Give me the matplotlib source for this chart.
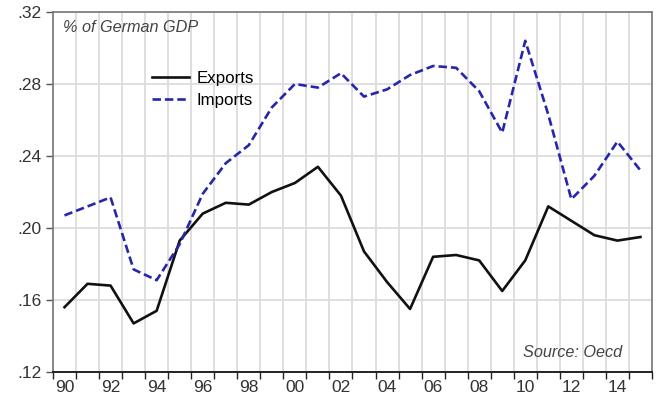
import matplotlib
matplotlib.use("Agg")
import matplotlib.pyplot as plt
import numpy as np

plt.rcParams['font.family'] = ['Liberation Sans', 'DejaVu Sans']

# data, share of German GDP
years = list(range(1990, 2016))
exports = [0.156, 0.169, 0.168, 0.147, 0.154, 0.193, 0.208, 0.214, 0.213, 0.220,
           0.225, 0.234, 0.218, 0.187, 0.170, 0.155, 0.184, 0.185, 0.182, 0.165,
           0.182, 0.212, 0.204, 0.196, 0.193, 0.195]
imports = [0.207, 0.212, 0.217, 0.177, 0.171, 0.191, 0.219, 0.236, 0.246, 0.267,
           0.280, 0.278, 0.286, 0.273, 0.277, 0.285, 0.290, 0.289, 0.276, 0.253,
           0.304, 0.263, 0.216, 0.229, 0.248, 0.232]
y_ticks = [0.12, 0.16, 0.20, 0.24, 0.28, 0.32]
y_labels = ['.12', '.16', '.20', '.24', '.28', '.32']
x_label_years = list(range(1990, 2016, 2))

fig = plt.figure(figsize=(6.68, 4.04), dpi=100)
ax = fig.add_axes([0.0793, 0.0792, 0.8967, 0.8911])

x = np.array(years) + 0.5
ax.plot(x, exports, color='#111111', lw=1.9, label='Exports', zorder=3)
ax.plot(x, imports, color='#2626ac', lw=1.9, ls=(0, (3.2, 1.5)), label='Imports', zorder=3)

ax.set_xlim(1990, 2016)
ax.set_ylim(0.12, 0.32)

# year boundaries carry the ticks and grid, labels sit mid-year
ax.set_xticks(range(1990, 2017))
ax.set_xticklabels([])
ax.set_xticks([y + 0.5 for y in x_label_years], minor=True)
ax.set_xticklabels(['%02d' % (y % 100) for y in x_label_years], minor=True)
ax.tick_params(axis='x', which='major', direction='out', length=5, width=1, color='#222222')
ax.tick_params(axis='x', which='minor', length=0, pad=6, labelsize=12.5, labelcolor='#333333')

ax.set_yticks(y_ticks)
ax.set_yticklabels(y_labels)
ax.tick_params(axis='y', direction='out', length=5, width=1, color='#555555',
               labelsize=12.5, labelcolor='#333333', pad=3)

ax.grid(True, which='major', color='#dcdcdc', lw=1.3)
ax.set_axisbelow(True)

for side in ['top', 'right', 'left']:
    ax.spines[side].set_color('#777777')
    ax.spines[side].set_linewidth(1.2)
ax.spines['bottom'].set_color('#222222')
ax.spines['bottom'].set_linewidth(1.4)

ax.text(0.016, 0.958, '% of German GDP', transform=ax.transAxes, style='italic',
        fontsize=11.7, color='#444444', va='center', ha='left')
ax.text(0.951, 0.053, 'Source: Oecd', transform=ax.transAxes, style='italic',
        fontsize=11.7, color='#444444', va='center', ha='right')

ax.legend(loc='upper left', bbox_to_anchor=(0.2275, 0.825), bbox_transform=fig.transFigure,
          frameon=False, fontsize=12.2, handlelength=2.2, handletextpad=0.45,
          labelspacing=0.42, borderpad=0, borderaxespad=0)

fig.savefig('out.png', dpi=100)
